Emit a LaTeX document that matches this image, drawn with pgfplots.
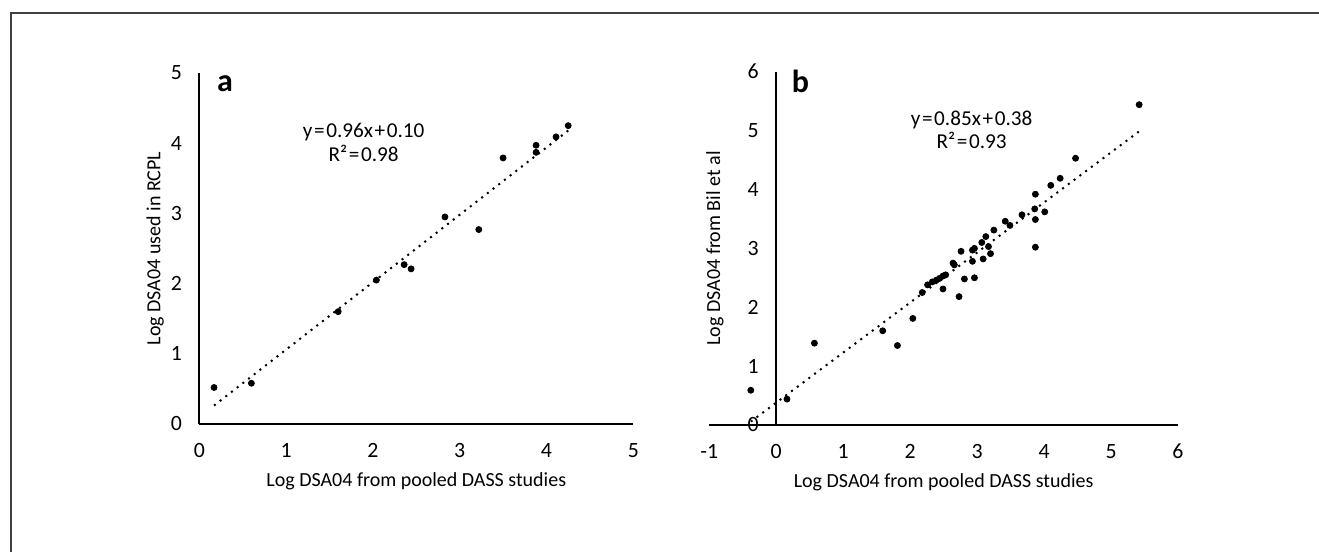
\documentclass[border=0pt]{standalone}
\usepackage{fontspec}
\setmainfont{Carlito}
\usepackage{pgfplots}
\pgfplotsset{compat=1.18}

% 1 px of the reference = 0.5pt
\newcommand{\eqsp}{\hspace{0.8pt}}
\pgfplotsset{
  dsa/.style={
    scale only axis, axis lines=middle,
    axis line style={-, line width=1pt},
    major tick length=0pt, clip=false,
    hide obscured x ticks=false, hide obscured y ticks=false,
    /pgf/number format/assume math mode=true,
    tick label style={font=\fontsize{10.9}{13}\selectfont},
    label style={font=\fontsize{10.9}{13}\selectfont},
    xticklabel style={anchor=center, yshift=-13.3pt},
    yticklabel style={anchor=center, xshift=-11.5pt},
    every axis x label/.style={at={(rel axis cs:0.5,0)}, anchor=center, yshift=-28.8pt},
    xlabel={Log DSA04 from pooled DASS studies},
  },
  pts/.style={only marks, mark=*, mark size=1.5pt, black},
  trend/.style={black, line width=1pt, dash pattern=on 1pt off 2.6pt},
}
\tikzset{
  eqtxt/.style={anchor=base, font=\fontsize{10.6}{13}\selectfont},
  panel/.style={anchor=base, font=\fontsize{16}{18}\selectfont\bfseries},
}

\begin{document}
\begin{tikzpicture}
\useasboundingbox (0,0) rectangle (659.5pt,276pt);
\draw[line width=1pt, draw=black!75] (5.5pt,0) -- (5.5pt,269.5pt) -- (659.5pt,269.5pt);

% panel a
\begin{axis}[dsa, at={(99.65pt,64pt)}, anchor=south west,
  width=217pt, height=175.5pt,
  xmin=0, xmax=5, ymin=0, ymax=5,
  xtick={0,1,2,3,4,5}, ytick={0,1,2,3,4,5},
  every axis y label/.style={at={(rel axis cs:-0.102,0.5)}, rotate=90, anchor=center},
  ylabel={Log DSA04 used in RCPL},
]
\addplot[trend] coordinates {(0.17,0.263) (4.25,4.18)};
\addplot[pts] coordinates {
(0.17,0.52) (0.60,0.58) (1.60,1.60) (2.04,2.05) (2.36,2.27) (2.44,2.21)
(2.83,2.95) (3.22,2.77) (3.50,3.79) (3.88,3.87) (3.88,3.97) (4.11,4.09)
(4.25,4.25)};
\node[panel] at (axis cs:0.296,4.73) {a};
\node[eqtxt] at (axis cs:1.894,4.084) {y\eqsp=\eqsp0.96x\eqsp+\eqsp0.10};
\node[eqtxt] at (axis cs:1.894,3.736) {R²\eqsp=\eqsp0.98};
\end{axis}

% panel b
\begin{axis}[dsa, at={(354.65pt,63.5pt)}, anchor=south west,
  width=234.35pt, height=176.65pt,
  xmin=-1, xmax=6, ymin=0, ymax=6,
  xtick={-1,0,1,2,3,4,5,6}, xticklabels={-1,0,1,2,3,4,5,6},
  ytick={0,1,2,3,4,5,6},
  every axis y label/.style={at={(rel axis cs:0.012,0.5)}, rotate=90, anchor=center},
  ylabel={Log DSA04 from Bil et al},
]
\addplot[trend] coordinates {(-0.38,0.057) (5.42,4.987)};
\addplot[pts] coordinates {
(-0.38,0.59) (0.16,0.44) (0.57,1.39) (1.59,1.60) (1.81,1.35) (2.04,1.81)
(2.18,2.25) (2.26,2.38) (2.33,2.43) (2.39,2.46) (2.44,2.49) (2.49,2.53)
(2.53,2.55) (2.49,2.31) (2.64,2.75) (2.66,2.72) (2.73,2.18) (2.76,2.95)
(2.81,2.48) (2.93,2.97) (2.93,2.78) (2.96,3.00) (2.96,2.50) (3.07,3.10)
(3.09,2.82) (3.13,3.20) (3.17,3.03) (3.20,2.91) (3.25,3.31) (3.42,3.46)
(3.49,3.39) (3.67,3.57) (3.87,3.92) (3.86,3.67) (3.87,3.49) (3.87,3.02)
(4.01,3.62) (4.10,4.07) (4.24,4.19) (4.47,4.53) (5.42,5.44)};
\node[panel] at (axis cs:0.36,5.65) {b};
\node[eqtxt] at (axis cs:2.918,5.09) {y\eqsp=\eqsp0.85x\eqsp+\eqsp0.38};
\node[eqtxt] at (axis cs:2.918,4.70) {R²\eqsp=\eqsp0.93};
\end{axis}
\end{tikzpicture}
\end{document}
